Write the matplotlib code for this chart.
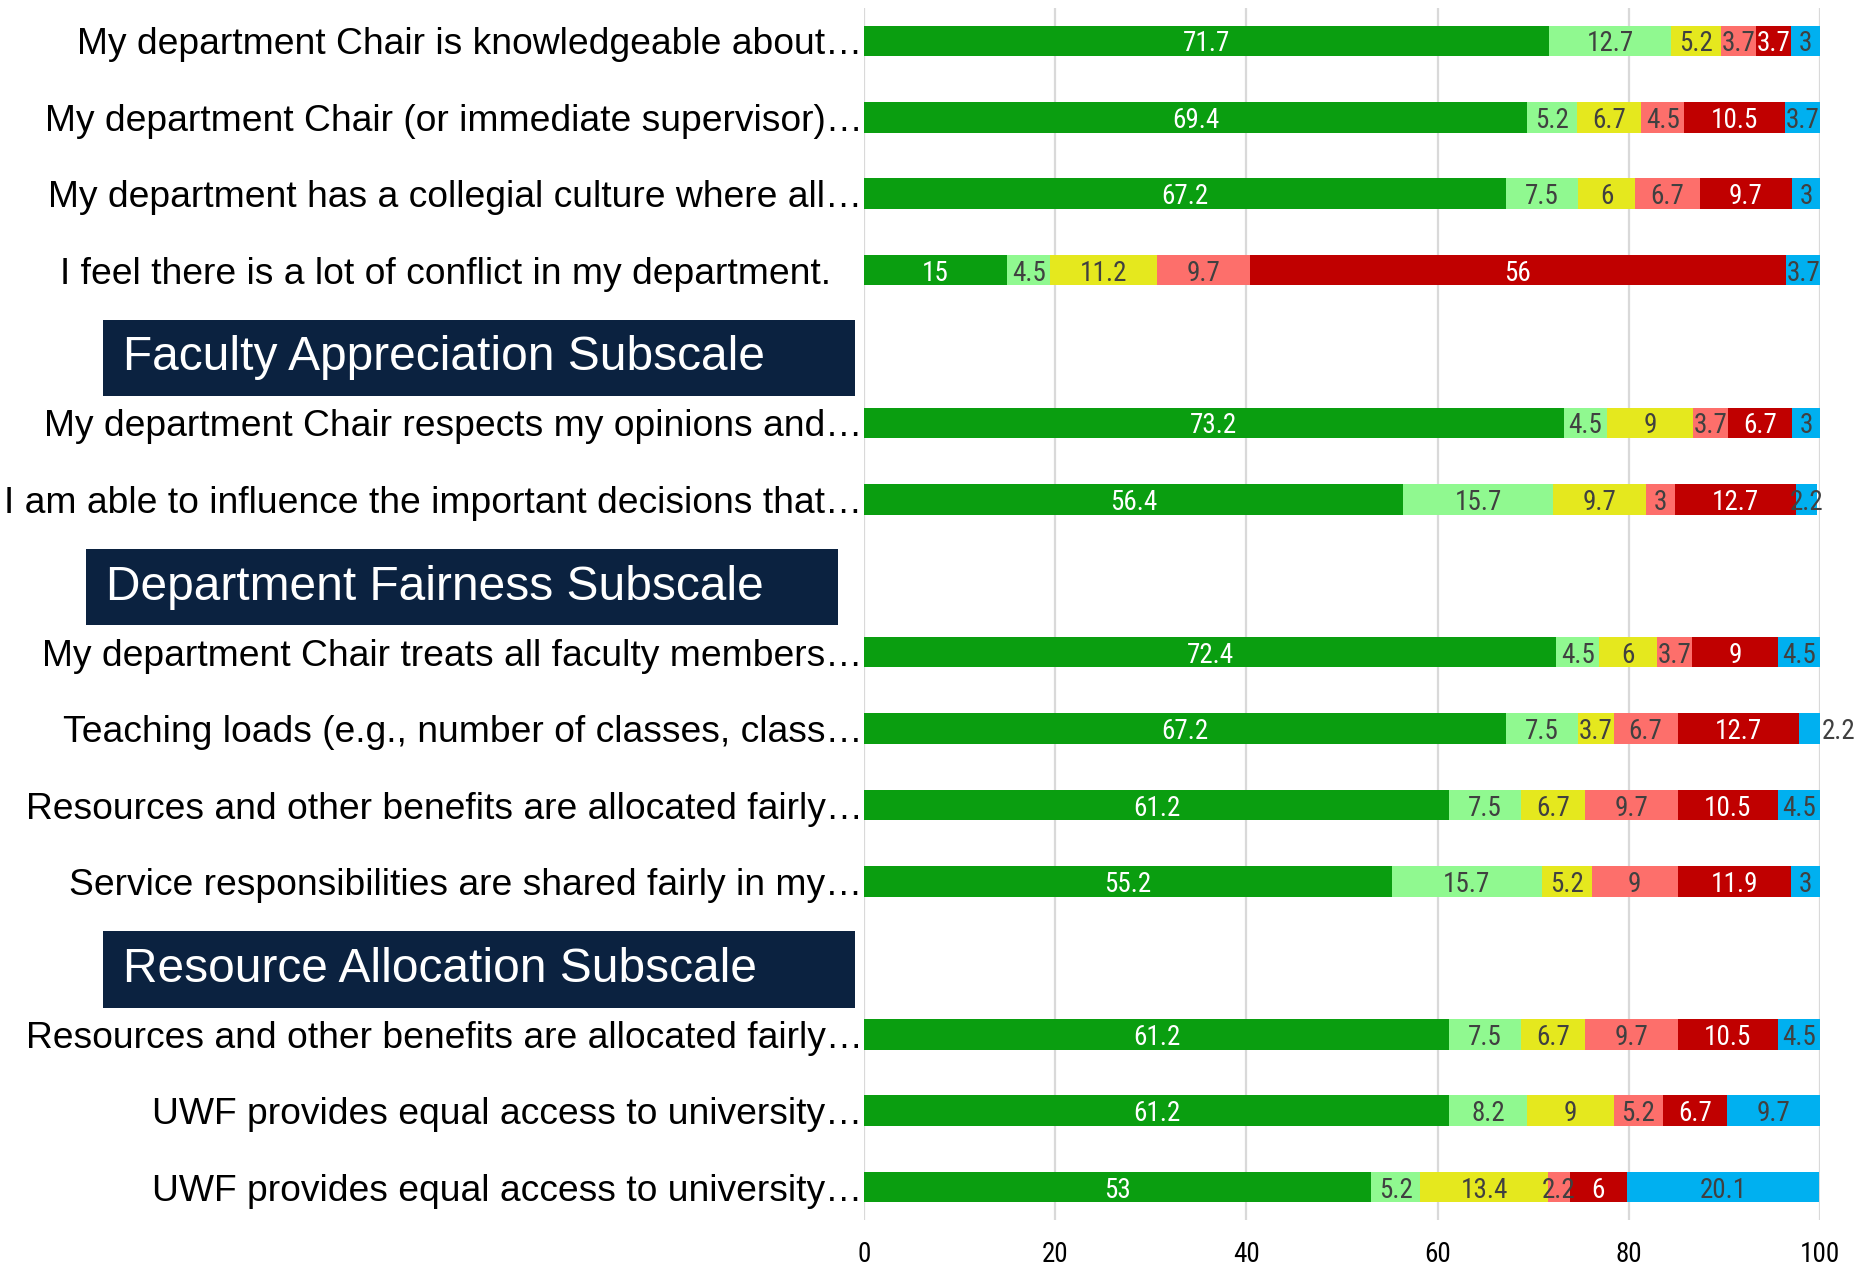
import matplotlib.pyplot as plt
from matplotlib.patches import Rectangle
from matplotlib.transforms import blended_transform_factory

rows = [
    "My department Chair is knowledgeable about…",
    "My department Chair (or immediate supervisor)…",
    "My department has a collegial culture where all…",
    "I feel there is a lot of conflict in my department.   ",
    "Faculty Appreciation Subscale",
    "My department Chair respects my opinions and…",
    "I am able to influence the important decisions that…",
    "Department Fairness Subscale",
    "My department Chair treats all faculty members…",
    "Teaching loads (e.g., number of classes, class…",
    "Resources and other benefits are allocated fairly…",
    "Service responsibilities are shared fairly in my…",
    "Resource Allocation Subscale",
    "Resources and other benefits are allocated fairly…",
    "UWF provides equal access to university…",
    "UWF provides equal access to university…",
]
headers = ["Faculty Appreciation Subscale", "Department Fairness Subscale",
           "Resource Allocation Subscale"]

strongly_agree = [71.7, 69.4, 67.2, 15, 73.2, 56.4, 72.4, 67.2, 61.2, 55.2, 61.2, 61.2, 53]
agree = [12.7, 5.2, 7.5, 4.5, 4.5, 15.7, 4.5, 7.5, 7.5, 15.7, 7.5, 8.2, 5.2]
neutral = [5.2, 6.7, 6, 11.2, 9, 9.7, 6, 3.7, 6.7, 5.2, 6.7, 9, 13.4]
disagree = [3.7, 4.5, 6.7, 9.7, 3.7, 3, 3.7, 6.7, 9.7, 9, 9.7, 5.2, 2.2]
strongly_disagree = [3.7, 10.5, 9.7, 56, 6.7, 12.7, 9, 12.7, 10.5, 11.9, 10.5, 6.7, 6]
not_applicable = [3, 3.7, 3, 3.7, 3, 2.2, 4.5, 2.2, 4.5, 3, 4.5, 9.7, 20.1]

series = [strongly_agree, agree, neutral, disagree, strongly_disagree, not_applicable]
colors = ['#0a9e10', '#90f990', '#e5e81e', '#fd6f6b', '#c00000', '#00b0f0']
text_colors = ['white', '#404040', '#404040', '#404040', 'white', '#404040']

narrow = ['Roboto Condensed', 'Archivo Narrow', 'Liberation Sans', 'DejaVu Sans']
plt.rcParams['font.family'] = ['Liberation Sans', 'DejaVu Sans']

W, H = 1854, 1268
fig = plt.figure(figsize=(W / 100, H / 100), dpi=100)
ax = fig.add_axes([864 / W, 1 - 1220 / H, (1820 - 864) / W, (1220 - 8) / H])

item_y = [i for i, r in enumerate(rows) if r not in headers]
left = [0.0] * len(item_y)
for vals, c, tc in zip(series, colors, text_colors):
    ax.barh(item_y, vals, left=left, height=0.4, color=c, zorder=2)
    for y, l, v in zip(item_y, left, vals):
        end = l + v
        if end >= 99.95 and v < 2.5:
            # tiny last segment: label sits just outside the bar
            ax.text(100.2, y, f'{v:g}', ha='left', va='center_baseline', color=tc,
                    fontsize=19.5, family=narrow, zorder=3, clip_on=False)
        else:
            ax.text(l + v / 2, y, f'{v:g}', ha='center', va='center_baseline', color=tc,
                    fontsize=19.5, family=narrow, zorder=3)
    left = [l + v for l, v in zip(left, vals)]

# section headers in the label area
tr = blended_transform_factory(fig.transFigure, ax.transData)
for name in headers:
    y = rows.index(name) + 0.15
    x0 = 86 if name.startswith('Department') else 103
    ax.add_patch(Rectangle((x0 / W, y - 0.5), 752 / W, 1.0, transform=tr,
                           facecolor='#0b2240', edgecolor='none', clip_on=False))
    ax.text((x0 + 20) / W, y, name, transform=tr, color='white', fontsize=34.5,
            ha='left', va='center', clip_on=False)

ax.set_yticks(item_y)
ax.set_yticklabels([rows[i] for i in item_y], fontsize=26.8)
ax.set_ylim(15.43, -0.43)
ax.set_xlim(0, 100)
ax.set_xticks([0, 20, 40, 60, 80, 100])
for t in ax.get_xticklabels():
    t.set_fontfamily(narrow)
    t.set_fontsize(19.5)
ax.tick_params(axis='both', length=0)
ax.tick_params(axis='x', pad=15)
ax.tick_params(axis='y', pad=1)
ax.xaxis.grid(True, color='#d9d9d9', lw=1.6, zorder=0)
ax.set_axisbelow(True)
for s in ax.spines.values():
    s.set_visible(False)

fig.savefig('out.png', dpi=100)
